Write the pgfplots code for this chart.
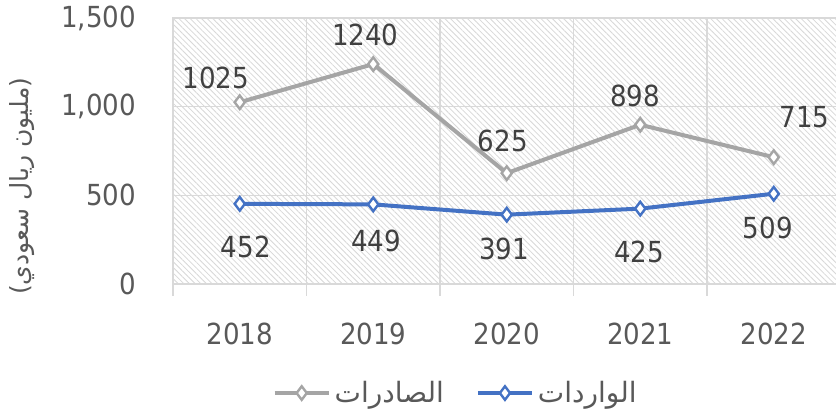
\documentclass[border=0pt]{standalone}
\usepackage{pgfplots}
\pgfplotsset{compat=1.18}
\usetikzlibrary{patterns.meta}
\usepackage{fontspec}
\setmainfont{DejaVu Sans Condensed}
\newfontfamily\arabicfont[Script=Arabic]{DejaVu Sans}
\TeXXeTstate=1
\definecolor{gridc}{HTML}{D9D9D9}
\definecolor{expc}{HTML}{A5A5A5}
\definecolor{impc}{HTML}{4472C4}
\definecolor{tickc}{HTML}{595959}
\definecolor{labc}{HTML}{404040}
\definecolor{hatchc}{HTML}{D8D8D8}
\begin{document}
\begin{tikzpicture}
\begin{axis}[name=ax,
  scale only axis, width=333.75pt, height=133pt,
  xmin=-0.5, xmax=4.5, ymin=0, ymax=1500,
  xtick={0,...,4}, xticklabels={2018,2019,2020,2021,2022},
  ytick={0,500,1000,1500},
  minor xtick={-0.5,0.5,...,4.5},
  xminorgrids, ymajorgrids,
  grid style={gridc, line width=0.75pt},
  minor grid style={gridc, line width=0.75pt},
  axis line style={draw=gridc, line width=0.75pt},
  major tick length=0pt,
  minor tick length=6pt,
  tick align=outside,
  minor tick style={gridc, line width=0.75pt},
  xtick pos=bottom, ytick pos=left,
  /pgf/number format/assume math mode=true,
  /pgf/number format/1000 sep={,},
  ticklabel style={font=\fontsize{14.5}{16}\selectfont, text=tickc},
  xticklabel style={yshift=-16pt},
  yticklabel style={xshift=-15pt},
  axis background/.style={preaction={fill=white}, pattern={Lines[angle=-45,distance=2pt,line width=0.4pt]}, pattern color=hatchc},
  ylabel={\arabicfont\beginR(مليون ريال سعودي)\endR},
  ylabel style={at={(rel axis cs:-0.226,0.368)}, anchor=center, font=\fontsize{12.5}{15}\selectfont, text=tickc},
  legend columns=2,
  legend cell align=left,
  legend style={at={(0.425,-0.41)}, anchor=center, draw=none, fill=none,
    font=\fontsize{14}{16}\selectfont, text=tickc,
    /tikz/every even column/.append style={column sep=14pt}},
  legend image code/.code={\draw[mark repeat=2,mark phase=2] plot coordinates {(0pt,0pt)(13.5pt,0pt)(27pt,0pt)};},
]
\addplot[expc, line width=2pt, mark=diamond*, mark size=3.4pt, mark options={fill=white, draw=expc, line width=1.2pt}]
  coordinates {(0,1025)(1,1240)(2,625)(3,898)(4,715)};
\addlegendentry{\arabicfont\beginR الصادرات\endR}
\addplot[impc, line width=2pt, mark=diamond*, mark size=3.4pt, mark options={fill=white, draw=impc, line width=1.2pt}]
  coordinates {(0,452)(1,449)(2,391)(3,425)(4,509)};
\addlegendentry{\arabicfont\beginR الواردات\endR}
\begin{scope}[every node/.style={font=\fontsize{14.5}{16}\selectfont, text=labc}]
\node at (axis cs:-0.18,1162) {1025};
\node at (axis cs:0.94,1404) {1240};
\node at (axis cs:1.97,806) {625};
\node at (axis cs:2.96,1060) {898};
\node at (axis cs:4.23,942) {715};
\node at (axis cs:0.045,209) {452};
\node at (axis cs:1.02,243) {449};
\node at (axis cs:1.98,197) {391};
\node at (axis cs:2.99,180) {425};
\node at (axis cs:3.955,316) {509};
\end{scope}
\end{axis}
\pgfresetboundingbox
\path[use as bounding box] ([shift={(-86.5pt,-63.5pt)}]ax.south west) rectangle ([shift={(-2.25pt,9pt)}]ax.north east);
\end{tikzpicture}
\end{document}
